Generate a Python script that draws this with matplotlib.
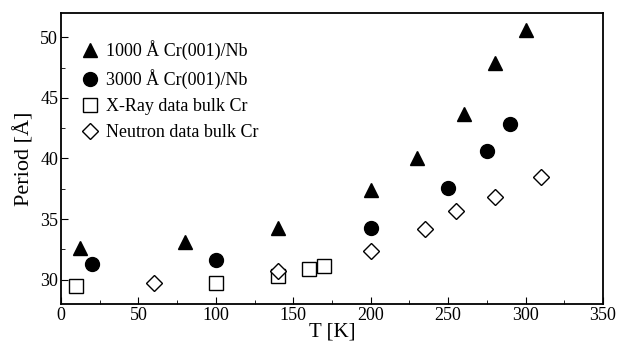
import matplotlib
matplotlib.use("Agg")
import matplotlib.pyplot as plt
from matplotlib.ticker import MultipleLocator

plt.rcParams['font.family'] = ['Liberation Serif', 'DejaVu Serif']

# 1000 A Cr(001)/Nb
t_1000 = [12, 80, 140, 200, 230, 260, 280, 300]
p_1000 = [32.6, 33.1, 34.3, 37.4, 40.0, 43.7, 47.9, 50.6]
# 3000 A Cr(001)/Nb
t_3000 = [20, 100, 200, 250, 275, 290]
p_3000 = [31.3, 31.6, 34.3, 37.6, 40.6, 42.85]
# X-ray bulk Cr
t_xray = [10, 100, 140, 160, 170]
p_xray = [29.5, 29.75, 30.35, 30.85, 31.1]
# Neutron bulk Cr
t_neut = [60, 140, 200, 235, 255, 280, 310]
p_neut = [29.75, 30.7, 32.4, 34.2, 35.7, 36.85, 38.5]

fig = plt.figure(figsize=(6.18, 3.41), dpi=100)
ax = fig.add_axes([0.0987, 0.1085, 0.877, 0.8534])

ax.plot(t_1000, p_1000, ls='none', marker='^', ms=10, color='black',
        label=u'1000 \u00c5 Cr(001)/Nb')
ax.plot(t_3000, p_3000, ls='none', marker='o', ms=10, color='black',
        label=u'3000 \u00c5 Cr(001)/Nb')
ax.plot(t_xray, p_xray, ls='none', marker='s', ms=10, mfc='white',
        mec='black', mew=1.0, label='X-Ray data bulk Cr')
ax.plot(t_neut, p_neut, ls='none', marker='D', ms=8, mfc='white',
        mec='black', mew=1.0, label='Neutron data bulk Cr')

ax.set_xlim(0, 350)
ax.set_ylim(28, 52)
ax.xaxis.set_major_locator(MultipleLocator(50))
ax.xaxis.set_minor_locator(MultipleLocator(25))
ax.yaxis.set_major_locator(MultipleLocator(5))
ax.yaxis.set_minor_locator(MultipleLocator(2.5))
ax.tick_params(which='both', direction='in', labelsize=13)
ax.tick_params(which='major', length=5, pad=2)
ax.tick_params(which='minor', length=3)
for s in ax.spines.values():
    s.set_linewidth(1.3)

ax.set_xlabel('T [K]', fontsize=15, labelpad=-1)
ax.set_ylabel(u'Period [\u00c5]', fontsize=16, labelpad=4)

ax.legend(loc='upper left', frameon=False, fontsize=13, handletextpad=0.3,
          borderaxespad=0.3, labelspacing=0.5, handlelength=1.2,
          bbox_to_anchor=(0.01, 0.95))

fig.savefig('out.png', dpi=100)
